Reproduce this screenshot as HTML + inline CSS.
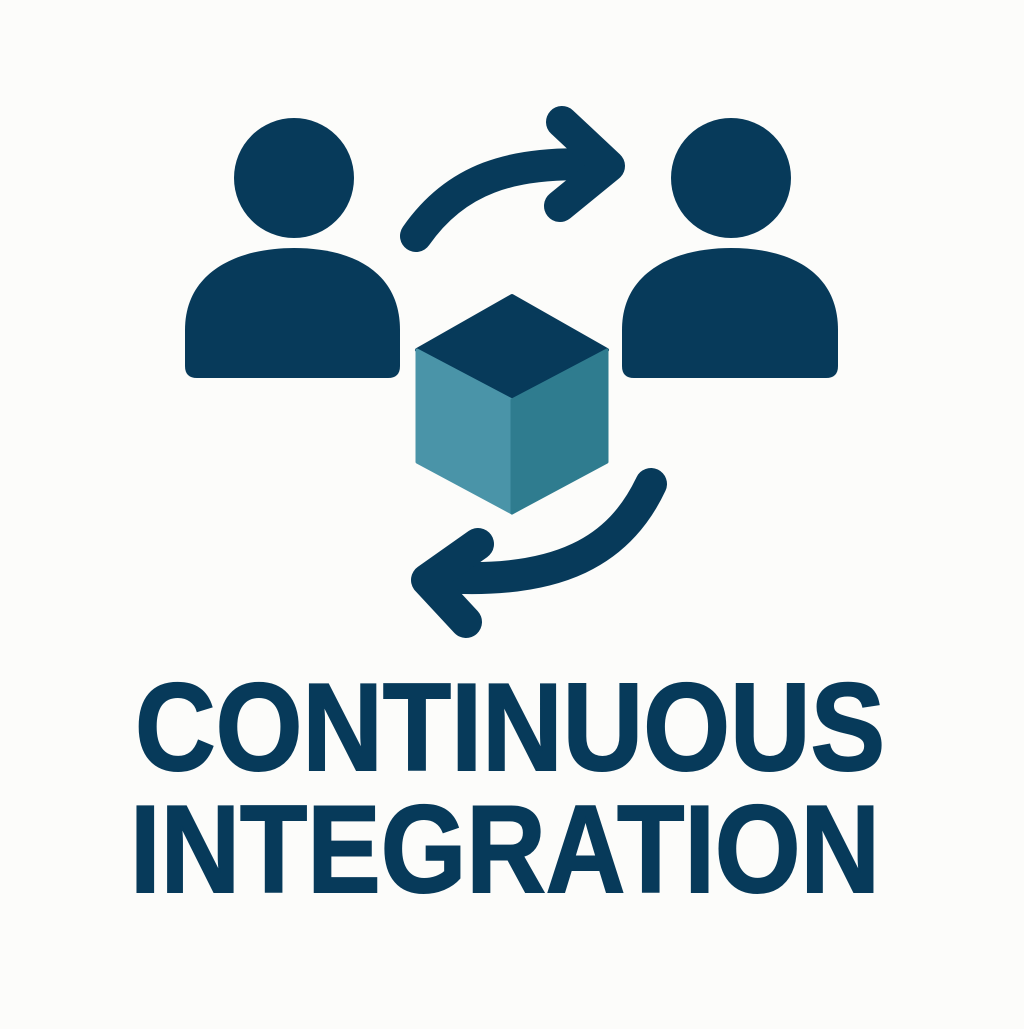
<!DOCTYPE html>
<html><head><style>
html,body{margin:0;padding:0;background:#fcfcfa;}
</style></head><body>
<svg width="1024" height="1024" viewBox="0 0 1024 1024" xmlns="http://www.w3.org/2000/svg">
<rect width="1024" height="1024" fill="#fcfcfa"/>
<g fill="#073a5a">
<circle cx="294" cy="178" r="60"/>
<path d="M185 330 C185 270 240 248 294 248 C350 248 400 270 400 330 L400 366 Q400 378 388 378 L197 378 Q185 378 185 366 Z"/>
<circle cx="731" cy="178" r="60"/>
<path d="M622 330 C622 270 677 248 731 248 C787 248 838 270 838 330 L838 366 Q838 378 826 378 L634 378 Q622 378 622 366 Z"/>
</g>
<g fill="none" stroke="#073a5a" stroke-width="32" stroke-linecap="round" stroke-linejoin="round">
<path d="M416 236 C455 180 510 160 600 165"/>
<path d="M562 122 L609 166 L560 206"/>
<path d="M651 484 C620 550 560 585 440 577"/>
<path d="M478 544 L427 580 L466 622"/>
</g>
<polygon points="512,296 607,350 512,400 417,350" fill="#073a5a" stroke="#073a5a" stroke-width="4" stroke-linejoin="round"/>
<polygon points="417,350 512,400 512,513 417,462" fill="#4a94a8" stroke="#4a94a8" stroke-width="3" stroke-linejoin="round"/>
<polygon points="512,400 607,350 607,462 512,513" fill="#2f7c8f" stroke="#2f7c8f" stroke-width="3" stroke-linejoin="round"/>
<g font-family="Liberation Sans, sans-serif" font-weight="bold" fill="#073a5a" stroke="#073a5a" stroke-width="2" font-size="124">
<text x="135" y="770" textLength="750" lengthAdjust="spacingAndGlyphs">CONTINUOUS</text>
<text x="130" y="892" textLength="750" lengthAdjust="spacingAndGlyphs">INTEGRATION</text>
</g>
</svg>
</body></html>
